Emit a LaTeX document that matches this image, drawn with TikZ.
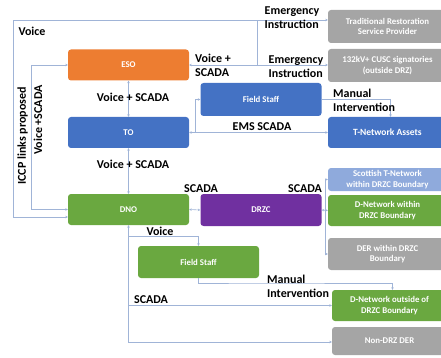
\documentclass[tikz,border=0pt]{standalone}
\usepackage{fontspec}
\setmainfont{Carlito}
\usetikzlibrary{calc, arrows.meta}
\definecolor{esoorange}{RGB}{237,125,49}
\definecolor{toblue}{RGB}{68,114,196}
\definecolor{dnogreen}{RGB}{106,168,64}
\definecolor{drzcpurple}{RGB}{112,48,160}
\definecolor{boxgray}{RGB}{165,165,165}
\definecolor{paleblue}{RGB}{143,170,220}
\definecolor{linkblue}{RGB}{160,180,215}

\tikzset{
  box/.style={rounded corners=3pt, text=white, align=center, inner sep=1pt,
    font=\bfseries\fontsize{8.8}{10.5}\selectfont},
  ctrl/.style={box, minimum width=121pt, minimum height=31pt},
  asset/.style={box, minimum width=119pt, minimum height=32pt},
  link/.style={draw=linkblue, line width=0.6pt,
    {Stealth[length=2.5pt,width=2.5pt]}-{Stealth[length=2.5pt,width=2.5pt]}},
  linkto/.style={draw=linkblue, line width=0.6pt, -{Stealth[length=2.5pt,width=2.5pt]}},
  wire/.style={draw=linkblue, line width=0.6pt},
  lab/.style={font=\bfseries\fontsize{12}{14}\selectfont, align=left, inner sep=1pt},
}

\begin{document}
\begin{tikzpicture}[>=stealth, x=1pt, y=-1pt]
    \useasboundingbox (0,0) rectangle (441,358);
    \clip (0,0) rectangle (441,358);
    % control rooms
    \node[ctrl, fill=esoorange] (eso) at (128.5,65) {ESO};
    \node[ctrl, fill=toblue] (to) at (128.5,132.5) {TO};
    \node[ctrl, fill=dnogreen] (dno) at (128.5,209.5) {DNO};
    \node[ctrl, fill=drzcpurple, minimum height=32pt] (drzc) at (261,210) {DRZC};
    \node[ctrl, fill=toblue, minimum height=33pt] (fsto) at (261,99.5) {Field Staff};
    \node[ctrl, fill=dnogreen, minimum height=32pt] (fsdno) at (198.5,262) {Field Staff};
    % assets, right column
    \node[asset, fill=boxgray, minimum height=33pt] (trad) at (387.5,26.5)
        {Traditional Restoration\\Service Provider};
    \node[asset, fill=boxgray, minimum height=33pt] (cusc) at (387.5,65.5)
        {132kV+ CUSC signatories\\(outside DRZ)};
    \node[asset, fill=toblue, minimum height=31pt,
        font=\bfseries\fontsize{9.5}{11}\selectfont] (tnet) at (387.5,132.5) {T-Network Assets};
    \node[asset, fill=paleblue, minimum height=23pt] (scot) at (387.5,179.5)
        {Scottish T-Network\\within DRZC Boundary};
    \node[asset, fill=dnogreen, minimum height=31pt] (dwithin) at (387.5,210.5)
        {D-Network within\\DRZC Boundary};
    \node[asset, fill=boxgray] (der) at (387.5,254) {DER within DRZC\\Boundary};
    \node[asset, fill=dnogreen, minimum width=115pt, minimum height=31pt] (dout)
        at (389.5,305.5) {D-Network outside of\\DRZC Boundary};
    \node[asset, fill=boxgray, minimum width=115pt, minimum height=28pt] (nonder)
        at (389.5,341) {Non-DRZ DER};

    % outer voice loop and ICCP loop
    \coordinate (outer) at (13,20);
    \coordinate (iccp) at (31,0);
    \draw[link] ([yshift=-7.5pt]dno.west) -| (outer) -- (trad.west |- outer);
    \node[lab] (voicetop) at (32,31) {Voice};
    \draw[link] (dno.west) -| (iccp |- eso.west) -- (eso.west);
    \node[lab, rotate=90] (iccplab) at (22.5,136) {ICCP links proposed};
    \node[lab, rotate=90] (iccpvs) at (38,120) {Voice +SCADA};

    % ESO to emergency instruction
    \coordinate (esobr) at (257,0);
    \draw[link] (eso.east) -- (cusc.west |- eso.east);
    \draw[wire] (esobr |- eso.east) -- (esobr |- outer);
    \node[lab, anchor=west] (esovs) at (194,65) {Voice +\\SCADA};
    \node[lab] (emerg1) at (292,18) {Emergency\\Instruction};
    \node[lab] (emerg2) at (296,66.5) {Emergency\\Instruction};

    % ESO - TO - DNO
    \draw[link] (eso.south) -- (to.north);
    \node[lab] (esoto) at (133,97.5) {Voice + SCADA};
    \draw[link] (to.south) -- (dno.north);
    \node[lab] (todno) at (133,164) {Voice + SCADA};

    % TO to field staff and T-network
    \coordinate (tobr) at (195,0);
    \draw[link] (to.east) -- (tnet.west);
    \node[lab] (ems) at (262,126.5) {EMS SCADA};
    \draw[linkto] (tobr |- to.east) |- (fsto.west);
    \draw[linkto] (fsto.east) -| ([xshift=3pt]tnet.north);
    \node[lab, anchor=west] (manual1) at (332,100.5) {Manual\\Intervention};

    % DNO to DRZC and DRZC to assets
    \coordinate (bus) at (325,0);
    \draw[link] (dno.east) -- (drzc.west);
    \node[lab] (scada1) at (201,188.5) {SCADA};
    \draw[link] (drzc.east) -- (dwithin.west);
    \draw[linkto] (bus |- scot.west) -- (scot.west);
    \draw[linkto] (bus |- der.west) -- (der.west);
    \draw[wire] (bus |- scot.west) -- (bus |- der.west);
    \node[lab] (scada2) at (305,188.5) {SCADA};

    % DNO downwards
    \coordinate (dnobus) at (128.5,342);
    \draw[link] (dno.south) -- (dnobus) -- (nonder.west |- dnobus);
    \draw[linkto] (128.5,236) -| (fsdno.north);
    \node[lab] (voicefs) at (160,231.5) {Voice};
    \draw[linkto] (128.5,305.5) -- (dout.west);
    \node[lab] (scada3) at (151,299.5) {SCADA};
    \draw[linkto] (fsdno.south) |- (258,283) -| ([xshift=3pt]dout.north);
    \node[lab, anchor=west] (manual2) at (266,286) {Manual\\Intervention};
\end{tikzpicture}
\end{document}
